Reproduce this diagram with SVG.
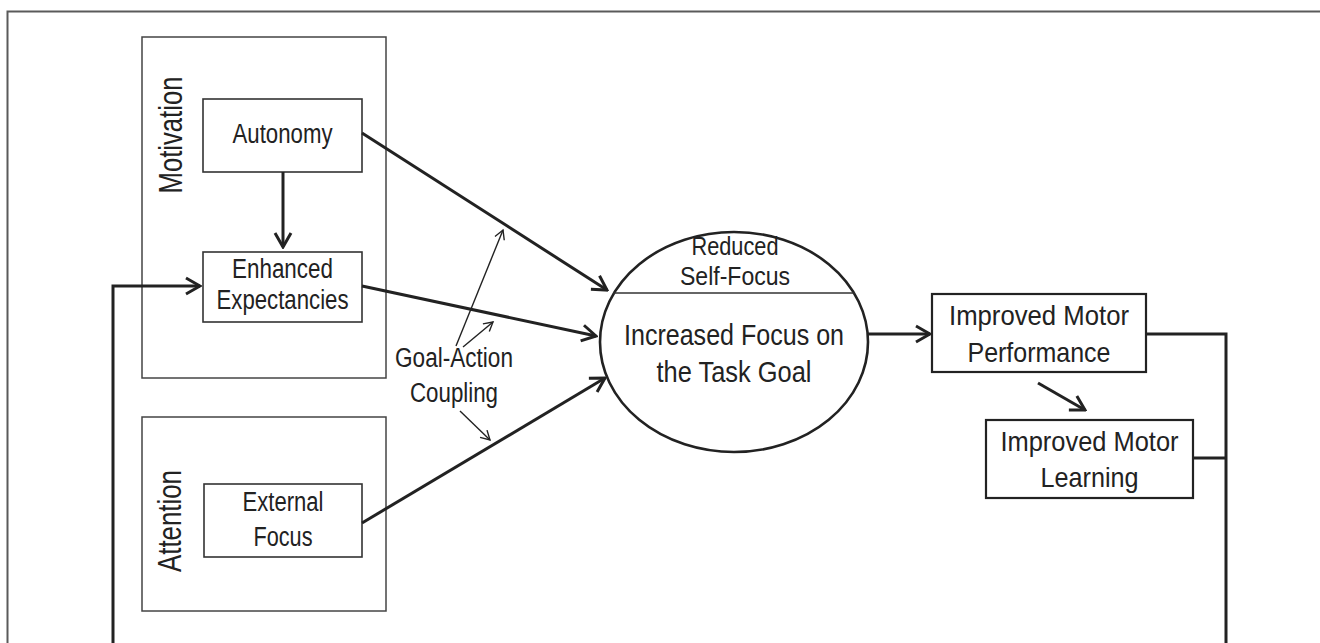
<svg xmlns="http://www.w3.org/2000/svg" width="1320" height="643" viewBox="0 0 1320 643">
<style>
text{font-family:"Liberation Sans",Arial,sans-serif;fill:#222;text-anchor:middle}
.grp{fill:none;stroke:#444;stroke-width:1.5}
.box{fill:#fff;stroke:#333;stroke-width:1.6}
.box2{fill:#fff;stroke:#222;stroke-width:2.2}
.c{fill:none;stroke:#222;stroke-width:3}
.t{fill:none;stroke:#222;stroke-width:1.4}
.lbl{font-size:27px}
.imp{font-size:28px}
.big{font-size:30px}
.side{font-size:33px}
</style>
<defs>
<marker id="ah" markerUnits="userSpaceOnUse" viewBox="-17 -11 19 22" markerWidth="19" markerHeight="22" refX="0" refY="0" orient="auto">
<path d="M-14,-8 L0,0 L-14,8" fill="none" stroke="#222" stroke-width="3" stroke-linejoin="miter"/>
</marker>
<marker id="as" markerUnits="userSpaceOnUse" viewBox="-12 -8 14 16" markerWidth="14" markerHeight="16" refX="0" refY="0" orient="auto">
<path d="M-9,-5 L0,0 L-9,5" fill="none" stroke="#222" stroke-width="1.4"/>
</marker>
</defs>
<rect width="1320" height="643" fill="#fff"/>
<path d="M7.5,700 L7.5,11.5 L1330,11.5" fill="none" stroke="#5a5a5a" stroke-width="2"/>

<g id="motivation">
<rect class="grp" x="142" y="37" width="244" height="341"/>
<text class="side" transform="translate(182,135) rotate(-90)" textLength="117" lengthAdjust="spacingAndGlyphs">Motivation</text>
</g>
<g id="attention">
<rect class="grp" x="142" y="417" width="244" height="194"/>
<text class="side" transform="translate(181,521) rotate(-90)" textLength="102" lengthAdjust="spacingAndGlyphs">Attention</text>
</g>
<g id="autonomy">
<rect class="box" x="203" y="99" width="159" height="73"/>
<text class="lbl" x="282.5" y="143" textLength="100" lengthAdjust="spacingAndGlyphs">Autonomy</text>
</g>
<g id="expectancies">
<rect class="box" x="203" y="252" width="159" height="70"/>
<text class="lbl" x="282.5" y="278" textLength="101" lengthAdjust="spacingAndGlyphs">Enhanced</text>
<text class="lbl" x="282.5" y="309" textLength="132" lengthAdjust="spacingAndGlyphs">Expectancies</text>
</g>
<g id="external">
<rect class="box" x="204" y="484" width="158" height="73"/>
<text class="lbl" x="283" y="511" textLength="81" lengthAdjust="spacingAndGlyphs">External</text>
<text class="lbl" x="283" y="546" textLength="59" lengthAdjust="spacingAndGlyphs">Focus</text>
</g>
<g id="focus">
<ellipse cx="734" cy="342" rx="134" ry="110" fill="#fff" stroke="#222" stroke-width="2.6"/>
<line x1="613" y1="293" x2="855" y2="293" stroke="#333" stroke-width="1.3"/>
<text x="735" y="255" style="font-size:25px" textLength="87" lengthAdjust="spacingAndGlyphs">Reduced</text>
<text x="735" y="285" style="font-size:25px" textLength="110" lengthAdjust="spacingAndGlyphs">Self-Focus</text>
<text class="big" x="734" y="345" textLength="220" lengthAdjust="spacingAndGlyphs">Increased Focus on</text>
<text class="big" x="734" y="382" textLength="155" lengthAdjust="spacingAndGlyphs">the Task Goal</text>
</g>
<g id="goalaction">
<text class="lbl" x="454" y="367" textLength="118" lengthAdjust="spacingAndGlyphs">Goal-Action</text>
<text class="lbl" x="454" y="402" textLength="88" lengthAdjust="spacingAndGlyphs">Coupling</text>
</g>
<g id="performance">
<rect class="box2" x="932" y="294" width="214" height="78"/>
<text class="imp" x="1039" y="325" textLength="180" lengthAdjust="spacingAndGlyphs">Improved Motor</text>
<text class="imp" x="1039" y="362" textLength="143" lengthAdjust="spacingAndGlyphs">Performance</text>
</g>
<g id="learning">
<rect class="box2" x="986" y="420" width="207" height="78"/>
<text class="imp" x="1089.5" y="451" textLength="178" lengthAdjust="spacingAndGlyphs">Improved Motor</text>
<text class="imp" x="1089.5" y="487" textLength="98" lengthAdjust="spacingAndGlyphs">Learning</text>
</g>

<g id="connectors">
<path class="c" d="M283,172 L283,247" marker-end="url(#ah)"/>
<path class="c" d="M362,133 L607,290" marker-end="url(#ah)"/>
<path class="c" d="M362,286 L596,336" marker-end="url(#ah)"/>
<path class="c" d="M362,523 L605,378" marker-end="url(#ah)"/>
<path class="c" d="M868,334 L930,334" marker-end="url(#ah)"/>
<path class="c" d="M1038,383 L1085,410" marker-end="url(#ah)"/>
<path class="c" d="M1146,334 L1226,334 L1226,660"/>
<path class="c" d="M1193,458 L1226,458"/>
<path class="c" d="M1226,660 L113,660 L113,286 L200,286" marker-end="url(#ah)"/>
<path class="t" d="M456,346 L503,230" marker-end="url(#as)"/>
<path class="t" d="M463,347 L493,322" marker-end="url(#as)"/>
<path class="t" d="M460,411 L490,440" marker-end="url(#as)"/>
</g>
</svg>
